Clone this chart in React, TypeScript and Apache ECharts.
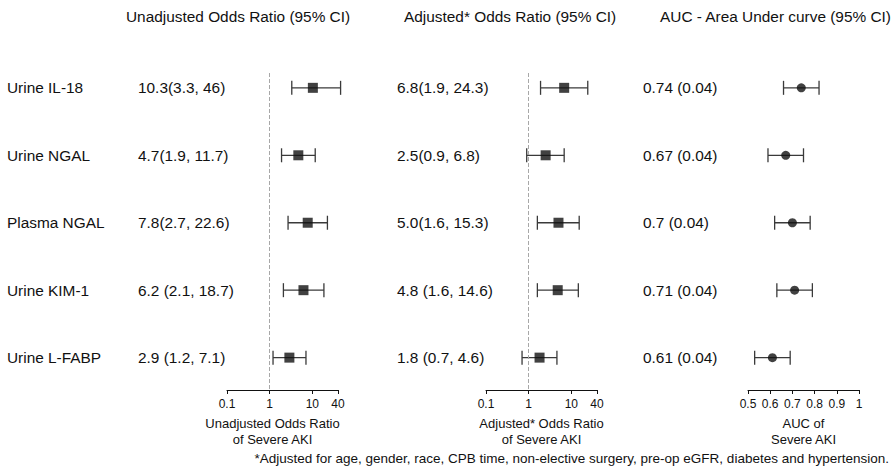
import React, { useEffect, useRef } from "react";
import * as echarts from "echarts";

const markers = ["Urine IL-18", "Urine NGAL", "Plasma NGAL", "Urine KIM-1", "Urine L-FABP"];
const rowIndex = [0, 1, 2, 3, 4];

const unadjOR = [10.3, 4.7, 7.8, 6.2, 2.9];
const unadjLo = [3.3, 1.9, 2.7, 2.1, 1.2];
const unadjHi = [46, 11.7, 22.6, 18.7, 7.1];
const unadjText = ["10.3(3.3, 46)", "4.7(1.9, 11.7)", "7.8(2.7, 22.6)", "6.2 (2.1, 18.7)", "2.9 (1.2, 7.1)"];

const adjOR = [6.8, 2.5, 5.0, 4.8, 1.8];
const adjLo = [1.9, 0.9, 1.6, 1.6, 0.7];
const adjHi = [24.3, 6.8, 15.3, 14.6, 4.6];
const adjText = ["6.8(1.9, 24.3)", "2.5(0.9, 6.8)", "5.0(1.6, 15.3)", "4.8 (1.6, 14.6)", "1.8 (0.7, 4.6)"];

const aucVal = [0.74, 0.67, 0.7, 0.71, 0.61];
const aucLo = [0.66, 0.59, 0.62, 0.63, 0.53];
const aucHi = [0.82, 0.75, 0.78, 0.79, 0.69];
const aucText = ["0.74 (0.04)", "0.67 (0.04)", "0.7 (0.04)", "0.71 (0.04)", "0.61 (0.04)"];

const orTicks = [0.1, 1, 10, 40];
const aucTicks = [0.5, 0.6, 0.7, 0.8, 0.9, 1];

const headers = ["Unadjusted Odds Ratio (95% CI)", "Adjusted* Odds Ratio (95% CI)", "AUC - Area Under curve (95% CI)"];
const axisTitles = ["Unadjusted Odds Ratio\nof Severe AKI", "Adjusted* Odds Ratio\nof Severe AKI", "AUC of\nSevere AKI"];
const footnote = "*Adjusted for age, gender, race, CPB time, non-elective surgery, pre-op eGFR, diabetes and hypertension.";

const FONT = '"Liberation Sans", Arial, Helvetica, sans-serif';
const INK = "#111";
const WHISK = "#3a3a3a";
const BIG = 15.4;

function errorBarSeries(gridIdx: number, lo: number[], hi: number[]) {
  return {
    type: "custom",
    xAxisIndex: gridIdx,
    yAxisIndex: gridIdx,
    clip: false,
    encode: { x: [0, 1], y: 2 },
    data: rowIndex.map((i) => [lo[i], hi[i], i]),
    renderItem: (params: any, api: any) => {
      const y = api.value(2);
      const p1 = api.coord([api.value(0), y]);
      const p2 = api.coord([api.value(1), y]);
      const h = 7;
      const style = { stroke: WHISK, lineWidth: 1.3 };
      return {
        type: "group",
        children: [
          { type: "line", shape: { x1: p1[0], y1: p1[1], x2: p2[0], y2: p2[1] }, style },
          { type: "line", shape: { x1: p1[0], y1: p1[1] - h, x2: p1[0], y2: p1[1] + h }, style },
          { type: "line", shape: { x1: p2[0], y1: p2[1] - h, x2: p2[0], y2: p2[1] + h }, style },
        ],
      };
    },
  };
}

function textSeries(gridIdx: number, refX: number, cols: { x: number; texts: string[] }[]) {
  return {
    type: "custom",
    xAxisIndex: gridIdx,
    yAxisIndex: gridIdx,
    clip: false,
    silent: true,
    data: rowIndex.map((i) => [refX, i]),
    encode: { x: 0, y: 1 },
    renderItem: (params: any, api: any) => {
      const p = api.coord([api.value(0), api.value(1)]);
      return {
        type: "group",
        children: cols.map((c) => ({
          type: "text",
          style: {
            text: c.texts[params.dataIndex],
            x: c.x,
            y: p[1],
            fill: INK,
            font: `${BIG}px ${FONT}`,
            textAlign: "left",
            textVerticalAlign: "middle",
          },
        })),
      };
    },
  };
}

function nameStyle(padRight: number) {
  return {
    fontSize: 13,
    lineHeight: 16,
    color: INK,
    fontFamily: FONT,
    verticalAlign: "top",
    padding: [0, padRight, 0, 0],
  };
}

function orAxis(gridIdx: number, name: string, padRight: number) {
  return {
    type: "log",
    logBase: 10,
    gridIndex: gridIdx,
    min: 0.1,
    max: 40,
    position: "bottom",
    axisLine: { show: true, onZero: false, lineStyle: { color: INK, width: 1 } },
    axisTick: { show: true, customValues: orTicks, length: 4, lineStyle: { color: INK } },
    axisLabel: {
      customValues: orTicks,
      formatter: (v: number) => String(Number(Number(v).toPrecision(3))),
      fontSize: 12,
      color: INK,
      fontFamily: FONT,
      margin: 8,
    },
    splitLine: { show: false },
    name,
    nameLocation: "middle",
    nameGap: 25,
    nameTextStyle: nameStyle(padRight),
  };
}

function yAxis(gridIdx: number) {
  return {
    type: "value",
    gridIndex: gridIdx,
    min: -0.22,
    max: 4.48,
    inverse: true,
    show: false,
  };
}

const refLine = {
  symbol: "none",
  silent: true,
  label: { show: false },
  lineStyle: { type: "dashed", color: "#a8a8a8", width: 1 },
  data: [{ xAxis: 1 }],
};

export default function App() {
  const ref = useRef<HTMLDivElement>(null);
  useEffect(() => {
    if (!ref.current) return;
    const chart = echarts.init(ref.current, undefined, { renderer: "svg" });
    const option: any = {
      animation: false,
      backgroundColor: "#fff",
      textStyle: { fontFamily: FONT },
      grid: [
        { left: 227, top: 73, width: 111, height: 317 },
        { left: 486, top: 73, width: 111, height: 317 },
        { left: 748, top: 73, width: 111, height: 317 },
      ],
      xAxis: [
        orAxis(0, axisTitles[0], 20),
        orAxis(1, axisTitles[1], 0),
        {
          type: "value",
          gridIndex: 2,
          min: 0.5,
          max: 1,
          interval: 0.1,
          position: "bottom",
          axisLine: { show: true, onZero: false, lineStyle: { color: INK, width: 1 } },
          axisTick: { show: true, customValues: aucTicks, length: 4, lineStyle: { color: INK } },
          axisLabel: {
            customValues: aucTicks,
            formatter: (v: number) => String(Math.round(v * 10) / 10),
            fontSize: 12,
            color: INK,
            fontFamily: FONT,
            margin: 8,
          },
          splitLine: { show: false },
          name: axisTitles[2],
          nameLocation: "middle",
          nameGap: 25,
          nameTextStyle: nameStyle(0),
        },
      ],
      yAxis: [yAxis(0), yAxis(1), yAxis(2)],
      graphic: [
        { type: "text", x: 126, y: 16, style: { text: headers[0], fill: INK, font: `${BIG}px ${FONT}`, textVerticalAlign: "middle" } },
        { type: "text", x: 404, y: 16, style: { text: headers[1], fill: INK, font: `${BIG}px ${FONT}`, textVerticalAlign: "middle" } },
        { type: "text", x: 660, y: 16, style: { text: headers[2], fill: INK, font: `${BIG}px ${FONT}`, textVerticalAlign: "middle" } },
        {
          type: "text",
          x: 889,
          y: 458,
          style: { text: footnote, fill: INK, font: `13.5px ${FONT}`, textAlign: "right", textVerticalAlign: "middle" },
        },
      ],
      series: [
        textSeries(0, 1, [
          { x: 7, texts: markers },
          { x: 138, texts: unadjText },
        ]),
        textSeries(1, 1, [{ x: 397, texts: adjText }]),
        textSeries(2, 0.75, [{ x: 643, texts: aucText }]),
        errorBarSeries(0, unadjLo, unadjHi),
        errorBarSeries(1, adjLo, adjHi),
        errorBarSeries(2, aucLo, aucHi),
        {
          type: "scatter",
          xAxisIndex: 0,
          yAxisIndex: 0,
          symbol: "rect",
          symbolSize: 10,
          itemStyle: { color: INK },
          data: rowIndex.map((i) => [unadjOR[i], i]),
          markLine: refLine,
          z: 5,
        },
        {
          type: "scatter",
          xAxisIndex: 1,
          yAxisIndex: 1,
          symbol: "rect",
          symbolSize: 10,
          itemStyle: { color: INK },
          data: rowIndex.map((i) => [adjOR[i], i]),
          markLine: refLine,
          z: 5,
        },
        {
          type: "scatter",
          xAxisIndex: 2,
          yAxisIndex: 2,
          symbol: "circle",
          symbolSize: 9,
          itemStyle: { color: INK },
          data: rowIndex.map((i) => [aucVal[i], i]),
          z: 5,
        },
      ],
    };
    chart.setOption(option);
    return () => chart.dispose();
  }, []);
  return (
    <div
      ref={ref}
      style={{ position: "fixed", left: 0, top: 0, width: 894, height: 472, background: "#fff" }}
    />
  );
}
